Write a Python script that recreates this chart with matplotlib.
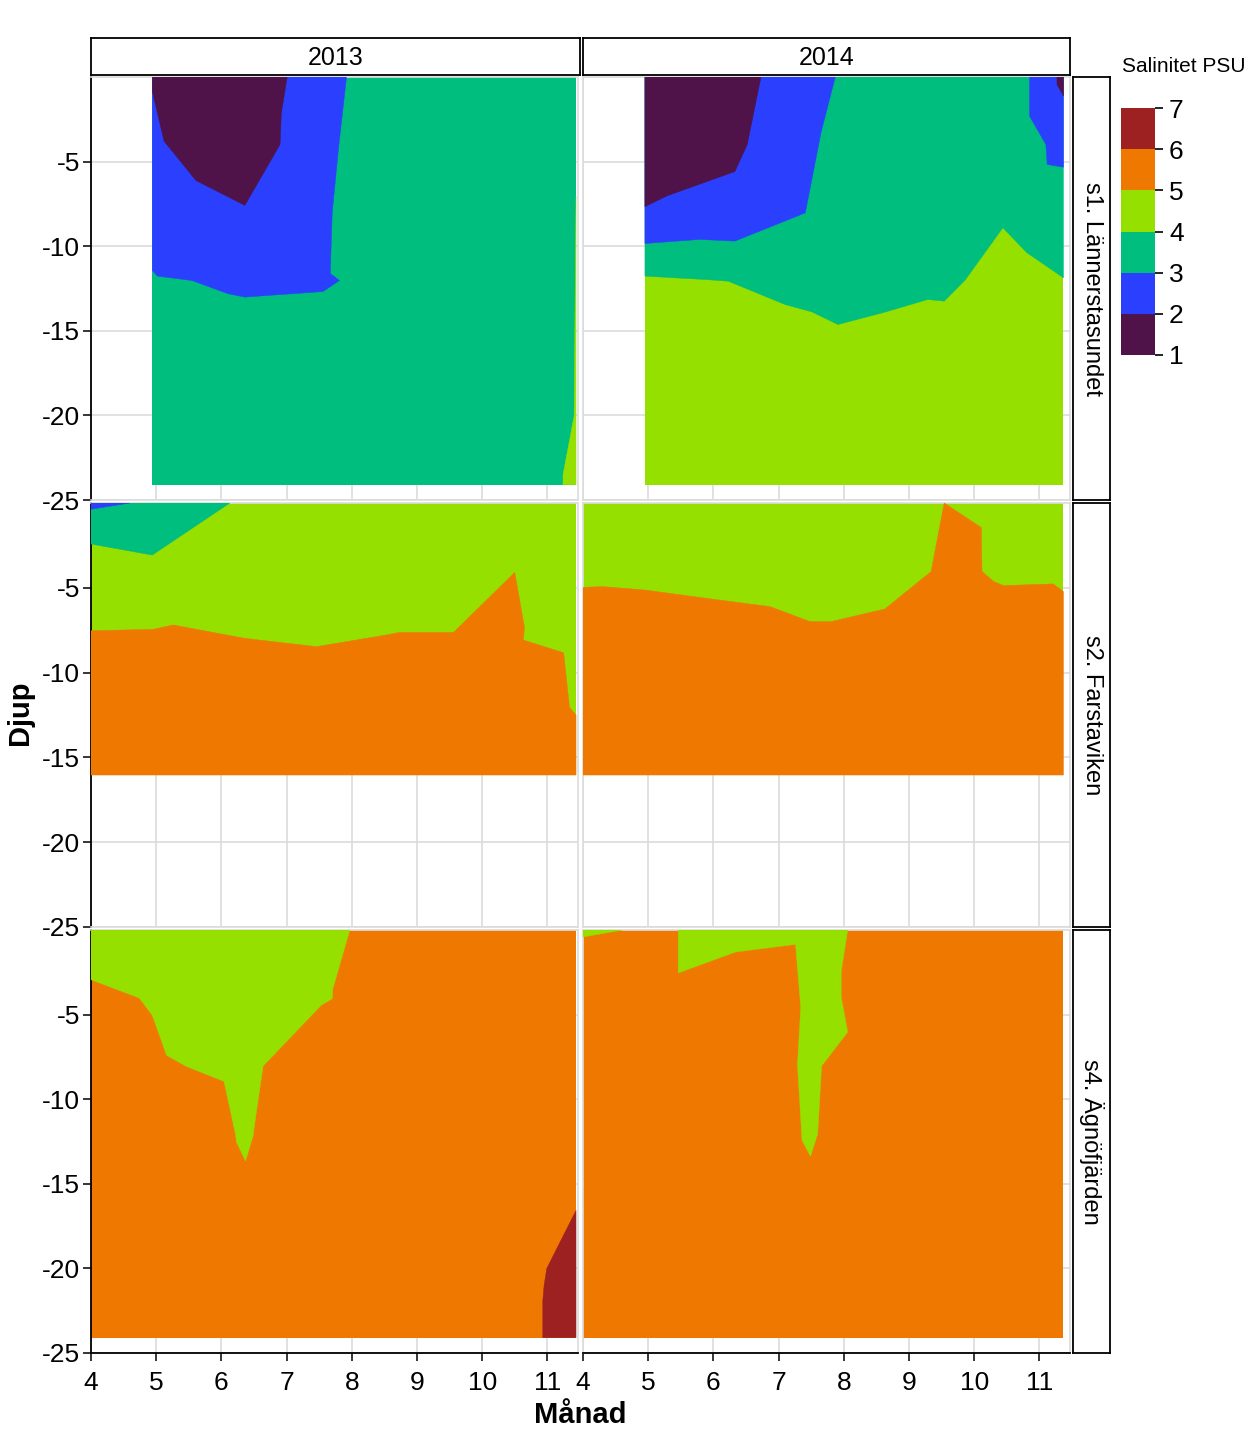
import matplotlib
matplotlib.use('Agg')
import matplotlib.pyplot as plt
from matplotlib import font_manager
from matplotlib.colors import ListedColormap, BoundaryNorm
from matplotlib.cm import ScalarMappable

_names = {f.name for f in font_manager.fontManager.ttflist}
_main = 'Liberation Sans Narrow' if 'Liberation Sans Narrow' in _names else 'Liberation Sans'
plt.rcParams['font.family'] = [_main, 'DejaVu Sans']

# ---------------- data ----------------
YEARS = ['2013', '2014']
STATIONS = ['s1. Lännerstasundet', 's2. Farstaviken', 's4. Ägnöfjärden']
LEVELS = [1, 2, 3, 4, 5, 6, 7]
LEVEL_COLORS = ['#4F1249', '#2B40FF', '#00BE7D', '#96E000', '#EE7800', '#9D2121']
TICK_COLORS = ['#7A3A78', '#2020FF', '#20B0B0', '#00CC00', '#D8D800', '#FF6A00', '#B03030']
MONTH_TICKS = [4, 5, 6, 7, 8, 9, 10, 11]
DEPTH_TICKS = [-25, -20, -15, -10, -5]

# sampled extent per panel: (first month, last month, deepest depth)
S1_2013_EXTENT = (4.94, 11.44, -24.1)
S1_2014_EXTENT = (4.95, 11.37, -24.1)
S2_2013_EXTENT = (4.00, 11.44, -16.04)
S2_2014_EXTENT = (4.00, 11.37, -16.04)
S4_2013_EXTENT = (4.00, 11.44, -24.1)
S4_2014_EXTENT = (4.00, 11.37, -24.1)

# dominant salinity class (lower bound, PSU) per panel
S1_2013_BASE = 3
S1_2014_BASE = 4
S2_2013_BASE = 4
S2_2014_BASE = 4
S4_2013_BASE = 5
S4_2014_BASE = 5

# isohaline boundaries (month, depth) of the other salinity classes
# s1 2013
S1_2013_BLUE_M = [4.94, 5.02, 5.55, 6.10, 6.36, 7.56, 7.81, 7.67, 7.70, 7.80, 7.92]
S1_2013_BLUE_D = [-11.44, -11.77, -12.03, -12.81, -13.01, -12.68, -12.03, -11.61, -8.03, -4.09, 0.0]
S1_2013_PURP_M = [4.94, 5.12, 5.61, 6.36, 6.90, 6.92, 7.01]
S1_2013_PURP_D = [-0.84, -3.79, -6.12, -7.59, -3.99, -2.12, 0.0]
S1_2013_YG_M = [11.44, 11.41, 11.24, 11.24]
S1_2013_YG_D = [-7.04, -20.04, -23.5, -24.1]
# s1 2014
S1_2014_GREEN_M = [4.95, 5.87, 6.23, 7.10, 7.51, 7.91, 8.63, 9.29, 9.54, 9.86, 10.44, 10.81, 11.37]
S1_2014_GREEN_D = [-11.77, -11.97, -12.07, -13.45, -13.88, -14.63, -13.90, -13.15, -13.25, -12.01, -8.91, -10.39, -11.87]
S1_2014_BLUE_M = [4.95, 5.79, 6.33, 7.41, 7.65, 7.87]
S1_2014_BLUE_D = [-9.84, -9.60, -9.70, -8.03, -3.30, 0.0]
S1_2014_PURP_M = [4.95, 5.28, 6.33, 6.52, 6.73]
S1_2014_PURP_D = [-7.67, -7.04, -5.59, -3.99, 0.0]
S1_2014_BLUE2_M = [10.85, 10.85, 11.10, 11.12, 11.37]
S1_2014_BLUE2_D = [0.0, -2.32, -3.99, -5.17, -5.33]
S1_2014_PURP2_M = [11.27, 11.27, 11.37]
S1_2014_PURP2_D = [0.0, -0.44, -1.13]
# s2 2013
S2_2013_ORANGE_M = [4.00, 4.95, 5.26, 6.36, 7.46, 8.53, 8.73, 9.56, 10.50, 10.65, 10.63, 11.25, 11.34, 11.44]
S2_2013_ORANGE_D = [-7.53, -7.45, -7.19, -7.98, -8.47, -7.78, -7.63, -7.63, -4.09, -7.35, -8.08, -8.83, -12.05, -12.50]
S2_2013_GREEN_M = [4.00, 4.94, 6.13]
S2_2013_GREEN_D = [-2.42, -3.07, 0.0]
S2_2013_BLUE_M = [4.00, 4.60]
S2_2013_BLUE_D = [-0.37, 0.0]
# s2 2014
S2_2014_ORANGE_M = [4.00, 4.31, 4.95, 5.97, 6.87, 7.48, 7.81, 8.63, 9.34, 9.54, 10.11, 10.12, 10.30, 10.45, 11.21, 11.37]
S2_2014_ORANGE_D = [-4.97, -4.93, -5.13, -5.66, -6.11, -6.99, -6.99, -6.25, -4.04, 0.0, -1.45, -4.04, -4.63, -4.87, -4.77, -5.22]
# s4 2013
S4_2013_YG_M = [4.00, 4.74, 4.94, 5.16, 5.46, 6.04, 6.22, 6.23, 6.37, 6.49, 6.50, 6.64, 7.53, 7.70, 7.71, 7.97]
S4_2013_YG_D = [-2.94, -4.02, -5.04, -7.41, -8.06, -8.95, -12.13, -12.53, -13.65, -12.13, -11.74, -8.04, -4.45, -4.06, -3.47, 0.0]
S4_2013_RED_M = [11.44, 10.99, 10.95, 10.93, 10.93]
S4_2013_RED_D = [-16.57, -20.01, -21.0, -21.89, -24.1]
# s4 2014
S4_2014_YG1_M = [4.00, 4.61]
S4_2014_YG1_D = [-0.41, 0.0]
S4_2014_YG2_M = [5.46, 5.46, 6.34, 7.26, 7.34, 7.29, 7.36, 7.49, 7.60, 7.66, 8.06, 7.96, 7.96, 8.06]
S4_2014_YG2_D = [0.0, -2.54, -1.30, -0.85, -4.55, -7.99, -12.43, -13.38, -12.04, -8.04, -6.03, -3.96, -2.48, 0.0]

# panel table: (row, col, extent, base class, [(class, months, depths, closing corners)])
PANELS = [
    (0, 0, S1_2013_EXTENT, S1_2013_BASE, [
        (2, S1_2013_BLUE_M, S1_2013_BLUE_D, ['tl']),
        (1, S1_2013_PURP_M, S1_2013_PURP_D, ['tl']),
        (4, S1_2013_YG_M, S1_2013_YG_D, ['br'])]),
    (0, 1, S1_2014_EXTENT, S1_2014_BASE, [
        (3, S1_2014_GREEN_M, S1_2014_GREEN_D, ['tr', 'tl']),
        (2, S1_2014_BLUE_M, S1_2014_BLUE_D, ['tl']),
        (1, S1_2014_PURP_M, S1_2014_PURP_D, ['tl']),
        (2, S1_2014_BLUE2_M, S1_2014_BLUE2_D, ['tr']),
        (1, S1_2014_PURP2_M, S1_2014_PURP2_D, ['tr'])]),
    (1, 0, S2_2013_EXTENT, S2_2013_BASE, [
        (5, S2_2013_ORANGE_M, S2_2013_ORANGE_D, ['br', 'bl']),
        (3, S2_2013_GREEN_M, S2_2013_GREEN_D, ['tl']),
        (2, S2_2013_BLUE_M, S2_2013_BLUE_D, ['tl'])]),
    (1, 1, S2_2014_EXTENT, S2_2014_BASE, [
        (5, S2_2014_ORANGE_M, S2_2014_ORANGE_D, ['br', 'bl'])]),
    (2, 0, S4_2013_EXTENT, S4_2013_BASE, [
        (4, S4_2013_YG_M, S4_2013_YG_D, ['tl']),
        (6, S4_2013_RED_M, S4_2013_RED_D, ['br'])]),
    (2, 1, S4_2014_EXTENT, S4_2014_BASE, [
        (4, S4_2014_YG1_M, S4_2014_YG1_D, ['tl']),
        (4, S4_2014_YG2_M, S4_2014_YG2_D, [])]),
]

# ---------------- figure ----------------
W, H = 1259, 1435
fig = plt.figure(figsize=(W / 100, H / 100), dpi=100)

cmap = ListedColormap(LEVEL_COLORS)
norm = BoundaryNorm(LEVELS, cmap.N)

COL_PX = [(91, 578), (583, 1070)]
ROW_PX = [(77, 500), (503, 927), (930, 1353)]
XLIM = (4, 11.47)
YLIM = (-25, 0)
FS = 19
GRID = '#DCDCDC'


def rect(x0, x1, y0, y1):
    return [x0 / W, 1 - y1 / H, (x1 - x0) / W, (y1 - y0) / H]


def class_color(c):
    return cmap(norm(c + 0.5))


def closed(months, depths, corners, ext):
    x0, x1, bot = ext
    pts = {'tl': (x0, 0.0), 'tr': (x1, 0.0), 'bl': (x0, bot), 'br': (x1, bot)}
    xs = list(months) + [pts[c][0] for c in corners]
    ys = list(depths) + [pts[c][1] for c in corners]
    return xs, ys


axes = {}
for r, (y0, y1) in enumerate(ROW_PX):
    for c, (x0, x1) in enumerate(COL_PX):
        ax = fig.add_axes(rect(x0, x1, y0, y1))
        ax.set_xlim(*XLIM)
        ax.set_ylim(*YLIM)
        ax.set_xticks(MONTH_TICKS)
        ax.set_yticks(DEPTH_TICKS)
        ax.set_axisbelow(True)
        ax.grid(True, color=GRID, lw=1.2)
        for s in ax.spines.values():
            s.set_color(GRID)
            s.set_linewidth(1.2)
        ax.tick_params(axis='both', direction='out', length=6, width=1.1,
                       labelsize=FS, colors='black', pad=2)
        if c == 0:
            ax.spines['left'].set_color('black')
            ax.spines['left'].set_linewidth(1.3)
            ax.set_yticklabels([str(v) for v in DEPTH_TICKS])
        else:
            ax.tick_params(axis='y', length=0, labelleft=False)
        if r == 2:
            ax.spines['bottom'].set_color('black')
            ax.spines['bottom'].set_linewidth(1.3)
            ax.set_xticklabels([str(v) for v in MONTH_TICKS])
            ax.tick_params(axis='x', pad=7)
        else:
            ax.tick_params(axis='x', length=0, labelbottom=False)
        axes[(r, c)] = ax

for r, c, ext, base, regions in PANELS:
    ax = axes[(r, c)]
    x0, x1, bot = ext
    ax.fill_between([x0, x1], bot, 0, color=class_color(base), lw=0, zorder=2)
    for cls, ms, ds, corners in regions:
        xs, ys = closed(ms, ds, corners, ext)
        ax.fill(xs, ys, facecolor=class_color(cls), edgecolor=class_color(cls),
                lw=0.3, zorder=3)

# strips
for c, (x0, x1) in enumerate(COL_PX):
    sa = fig.add_axes(rect(x0, x1 + (2 if c == 0 else 0), 38, 75))
    sa.set_xticks([]); sa.set_yticks([])
    for s in sa.spines.values():
        s.set_linewidth(1.3)
    sa.text(0.5, 0.47, YEARS[c], ha='center', va='center', fontsize=18, transform=sa.transAxes)
for r, (y0, y1) in enumerate(ROW_PX):
    sa = fig.add_axes(rect(1073, 1110, y0, y1))
    sa.set_xticks([]); sa.set_yticks([])
    for s in sa.spines.values():
        s.set_linewidth(1.3)
    sa.text(0.5, 0.5, STATIONS[r], ha='center', va='center', rotation=270,
            fontsize=17, transform=sa.transAxes)

# axis titles
fig.text(20 / W, 1 - 713 / H, 'Djup', rotation=90, ha='center', va='center',
         fontsize=21, fontweight='bold')
fig.text(580 / W, 1 - 1415 / H, 'Månad', ha='center', va='center',
         fontsize=21, fontweight='bold')

# legend
cax = fig.add_axes(rect(1121, 1155, 108, 355))
sm = ScalarMappable(norm=norm, cmap=cmap)
cb = fig.colorbar(sm, cax=cax, ticks=LEVELS, drawedges=False)
cb.outline.set_visible(False)
cax.tick_params(length=6, width=1.2, labelsize=FS, pad=4)
for t, col in zip(cax.yaxis.get_major_ticks(), TICK_COLORS):
    t.tick2line.set_color(col)
fig.text(1122 / W, 1 - 67 / H, 'Salinitet PSU', ha='left', va='center', fontsize=15)

fig.savefig('out.png', dpi=100)
